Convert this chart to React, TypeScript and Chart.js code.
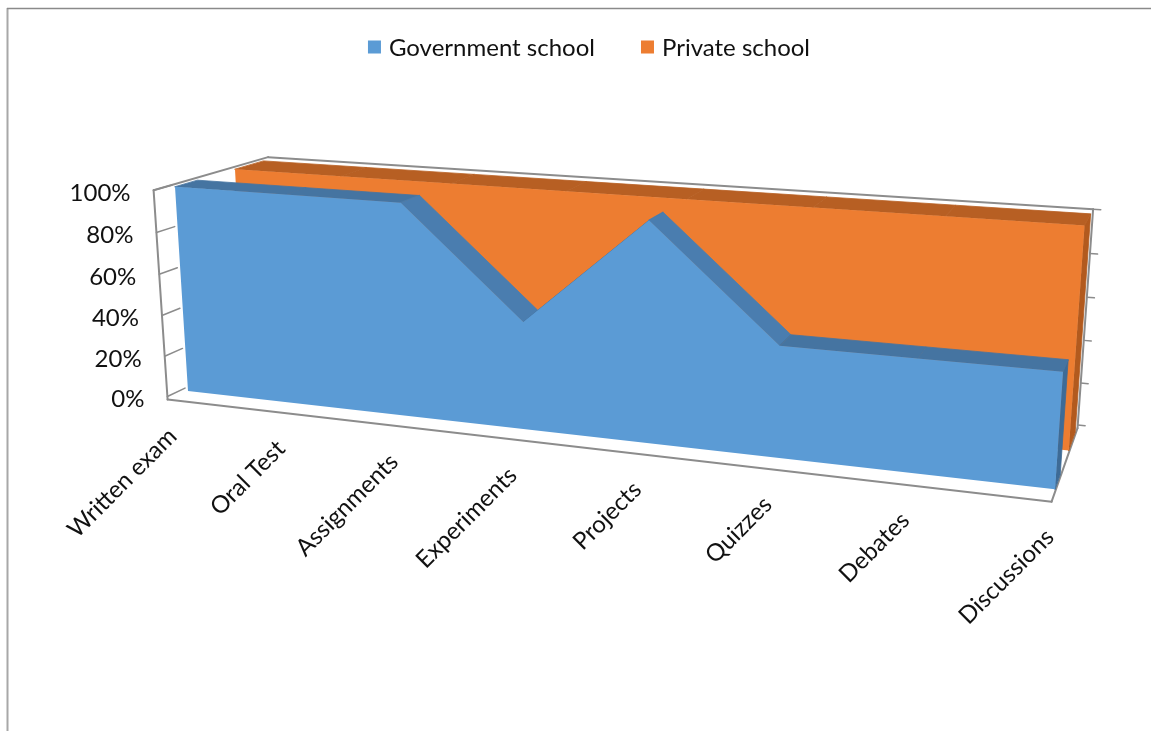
import React, { useEffect, useRef } from "react";
import { Chart, registerables } from "chart.js";

Chart.register(...registerables);

// ---------- data ----------
const categories = [
  "Written exam",
  "Oral Test",
  "Assignments",
  "Experiments",
  "Projects",
  "Quizzes",
  "Debates",
  "Discussions",
];
const governmentSchool = [100, 100, 100, 50, 100, 50, 50, 50];
const privateSchool = [100, 100, 100, 100, 100, 100, 100, 100];
const yTickValues = [0, 20, 40, 60, 80, 100];
const yTickLabels = ["0%", "20%", "40%", "60%", "80%", "100%"];

// ---------- styles ----------
const FONT = "Lato, 'Noto Sans', sans-serif";
const TEXT = "#111111";
const FRAME = "#8c8c8c";

const SERIES_STYLE = [
  { front: "#5B9BD5", topDown: "#4A7DAF", topFlat: "#4574A1", side: "#3E6B96", z0: 0, z1: 0.0204 },
  { front: "#ED7D31", topDown: "#B75F23", topFlat: "#B75F23", side: "#B25A1E", z0: 0.0559, z1: 0.085 },
];

// 3D camera described by three vanishing points (perspective like the source chart)
const CAMERA = {
  ox: 188,
  oy: 391,
  vx: [-4590, -150],
  kx: -0.15359,
  vy: [609, 7004],
  ky: -0.02995,
  vz: [1276, -135],
};
const WALL = { xMin: -0.01, xMax: 1, zFront: -0.012, zBack: 0.097, floorY: -0.015 };

function P(X: number, Y: number, Z: number): [number, number] {
  const a = X * CAMERA.kx;
  const b = Y * CAMERA.ky;
  const hx = CAMERA.ox + a * CAMERA.vx[0] + b * CAMERA.vy[0] + Z * CAMERA.vz[0];
  const hy = CAMERA.oy + a * CAMERA.vx[1] + b * CAMERA.vy[1] + Z * CAMERA.vz[1];
  const hw = 1 + a + b + Z;
  return [hx / hw, hy / hw];
}

function poly(ctx: CanvasRenderingContext2D, pts: [number, number][], color: string, stroke = false) {
  ctx.beginPath();
  pts.forEach(([x, y], i) => (i ? ctx.lineTo(x, y) : ctx.moveTo(x, y)));
  ctx.closePath();
  ctx.fillStyle = color;
  ctx.fill();
  if (stroke) {
    ctx.strokeStyle = color;
    ctx.lineWidth = 0.8;
    ctx.lineJoin = "round";
    ctx.stroke();
  }
}

function line(ctx: CanvasRenderingContext2D, a: [number, number], b: [number, number]) {
  ctx.beginPath();
  ctx.moveTo(a[0], a[1]);
  ctx.lineTo(b[0], b[1]);
  ctx.stroke();
}

const area3dPlugin = {
  id: "area3d",
  afterDatasetsDraw(chart: any) {
    const ctx: CanvasRenderingContext2D = chart.ctx;
    const ca = chart.chartArea;
    const xs = chart.scales.x;
    const ys = chart.scales.y;
    const toU = (px: number) => (px - ca.left) / (ca.right - ca.left);
    const toV = (py: number) => (ca.bottom - py) / (ca.bottom - ca.top);

    ctx.save();

    // outer border
    ctx.lineWidth = 2;
    ctx.strokeStyle = "#a8a8a8";
    line(ctx, [7.5, 8], [7.5, chart.height]);
    ctx.strokeStyle = "#8a8a8a";
    ctx.lineWidth = 1.5;
    line(ctx, [7, 8.5], [chart.width, 8.5]);

    // legend
    ctx.font = `24px ${FONT}`;
    ctx.textBaseline = "middle";
    ctx.textAlign = "left";
    const items = chart.data.datasets.map((ds: any) => ({ label: ds.label, color: ds.backgroundColor }));
    const box = 13;
    const gapBox = 8;
    const gapItem = 46;
    const widths = items.map((it: any) => box + gapBox + ctx.measureText(it.label).width);
    const total = widths.reduce((s: number, w: number) => s + w, 0) + gapItem * (items.length - 1);
    let lx = 589 - total / 2;
    const ly = 47;
    items.forEach((it: any, i: number) => {
      ctx.fillStyle = it.color;
      ctx.fillRect(lx, ly - box / 2, box, box);
      ctx.fillStyle = TEXT;
      ctx.fillText(it.label, lx + box + gapBox, ly + 1);
      lx += widths[i] + gapItem;
    });

    // frame (walls & floor edges)
    ctx.strokeStyle = FRAME;
    ctx.lineWidth = 2;
    ctx.lineCap = "round";
    const { xMin, xMax, zFront, zBack, floorY } = WALL;
    line(ctx, P(xMin, floorY, zFront), P(xMin, 1, zFront)); // left wall front edge
    line(ctx, P(xMin, 1, zFront), P(xMin, 1, zBack)); // left wall top edge
    line(ctx, P(xMin, 1, zBack), P(xMax, 1, zBack)); // back wall top edge
    line(ctx, P(xMax, 1, zBack), P(xMax, floorY, zBack)); // back wall right edge
    line(ctx, P(xMin, floorY, zFront), P(xMax, floorY, zFront)); // floor front edge
    line(ctx, P(xMax, floorY, zFront), P(xMax, floorY, zBack)); // floor right edge
    ctx.lineWidth = 1.5;
    yTickValues.forEach((t) => {
      const v = toV(ys.getPixelForValue(t));
      line(ctx, P(xMin, v, zFront), P(xMin, v, 0.004));
      line(ctx, P(xMax, v, zBack), P(xMax + 0.008, v, zBack));
    });

    // y labels
    ctx.fillStyle = TEXT;
    ctx.font = `24px ${FONT}`;
    ctx.textAlign = "right";
    ctx.textBaseline = "middle";
    yTickValues.forEach((t, i) => {
      const v = toV(ys.getPixelForValue(t));
      const [ex, ey] = P(xMin, v, zFront);
      ctx.fillText(yTickLabels[i], ex - 23, ey + 3);
    });

    // x labels
    (chart.data.labels as string[]).forEach((lab, i) => {
      const u = toU(xs.getPixelForValue(i));
      const [fx, fy] = P(u, 0, zFront);
      ctx.save();
      ctx.translate(fx - 2, fy + 35);
      ctx.rotate(-Math.PI / 4);
      ctx.textAlign = "right";
      ctx.textBaseline = "middle";
      ctx.fillText(lab, 0, 0);
      ctx.restore();
    });

    // series, back one first
    const order = [1, 0];
    order.forEach((di) => {
      const meta = chart.getDatasetMeta(di);
      const st = SERIES_STYLE[di];
      const pts = meta.data.map((el: any) => ({ u: toU(el.x), v: toV(el.y) }));
      const n = pts.length;
      const last = pts[n - 1];
      // right side face
      poly(
        ctx,
        [P(last.u, 0, st.z0), P(last.u, last.v, st.z0), P(last.u, last.v, st.z1), P(last.u, 0, st.z1)],
        st.side,
        true
      );
      // top faces
      for (let i = 0; i < n - 1; i++) {
        const a = pts[i];
        const b = pts[i + 1];
        const col = b.v < a.v - 1e-6 ? st.topDown : st.topFlat;
        poly(ctx, [P(a.u, a.v, st.z0), P(b.u, b.v, st.z0), P(b.u, b.v, st.z1), P(a.u, a.v, st.z1)], col, true);
      }
      // front face
      const front: [number, number][] = [P(pts[0].u, 0, st.z0)];
      pts.forEach((p: any) => front.push(P(p.u, p.v, st.z0)));
      front.push(P(last.u, 0, st.z0));
      poly(ctx, front, st.front);
    });

    ctx.restore();
  },
};

export default function App() {
  const ref = useRef<HTMLCanvasElement>(null);

  useEffect(() => {
    if (!ref.current) return;
    const chart = new Chart(ref.current, {
      type: "line",
      data: {
        labels: categories,
        datasets: [
          {
            label: "Government school",
            data: governmentSchool,
            backgroundColor: "#5B9BD5",
            borderColor: "#5B9BD5",
            showLine: false,
            pointRadius: 0,
            pointHoverRadius: 0,
          },
          {
            label: "Private school",
            data: privateSchool,
            backgroundColor: "#ED7D31",
            borderColor: "#ED7D31",
            showLine: false,
            pointRadius: 0,
            pointHoverRadius: 0,
          },
        ],
      },
      options: {
        responsive: false,
        animation: false,
        events: [],
        layout: { padding: { left: 190, right: 100, top: 190, bottom: 330 } },
        plugins: { legend: { display: false }, tooltip: { enabled: false } },
        scales: {
          x: { type: "category", display: false, offset: false },
          y: { type: "linear", display: false, min: 0, max: 100, ticks: { stepSize: 20 } },
        },
      },
      plugins: [area3dPlugin],
    });
    if ((document as any).fonts && (document as any).fonts.load) {
      (document as any).fonts.load(`24px Lato`).then(() => chart.update()).catch(() => {});
    }
    return () => chart.destroy();
  }, []);

  return (
    <div style={{ position: "absolute", left: 0, top: 0, width: 1151, height: 731, background: "#fff" }}>
      <canvas ref={ref} width={1151} height={731} style={{ display: "block" }} />
    </div>
  );
}
